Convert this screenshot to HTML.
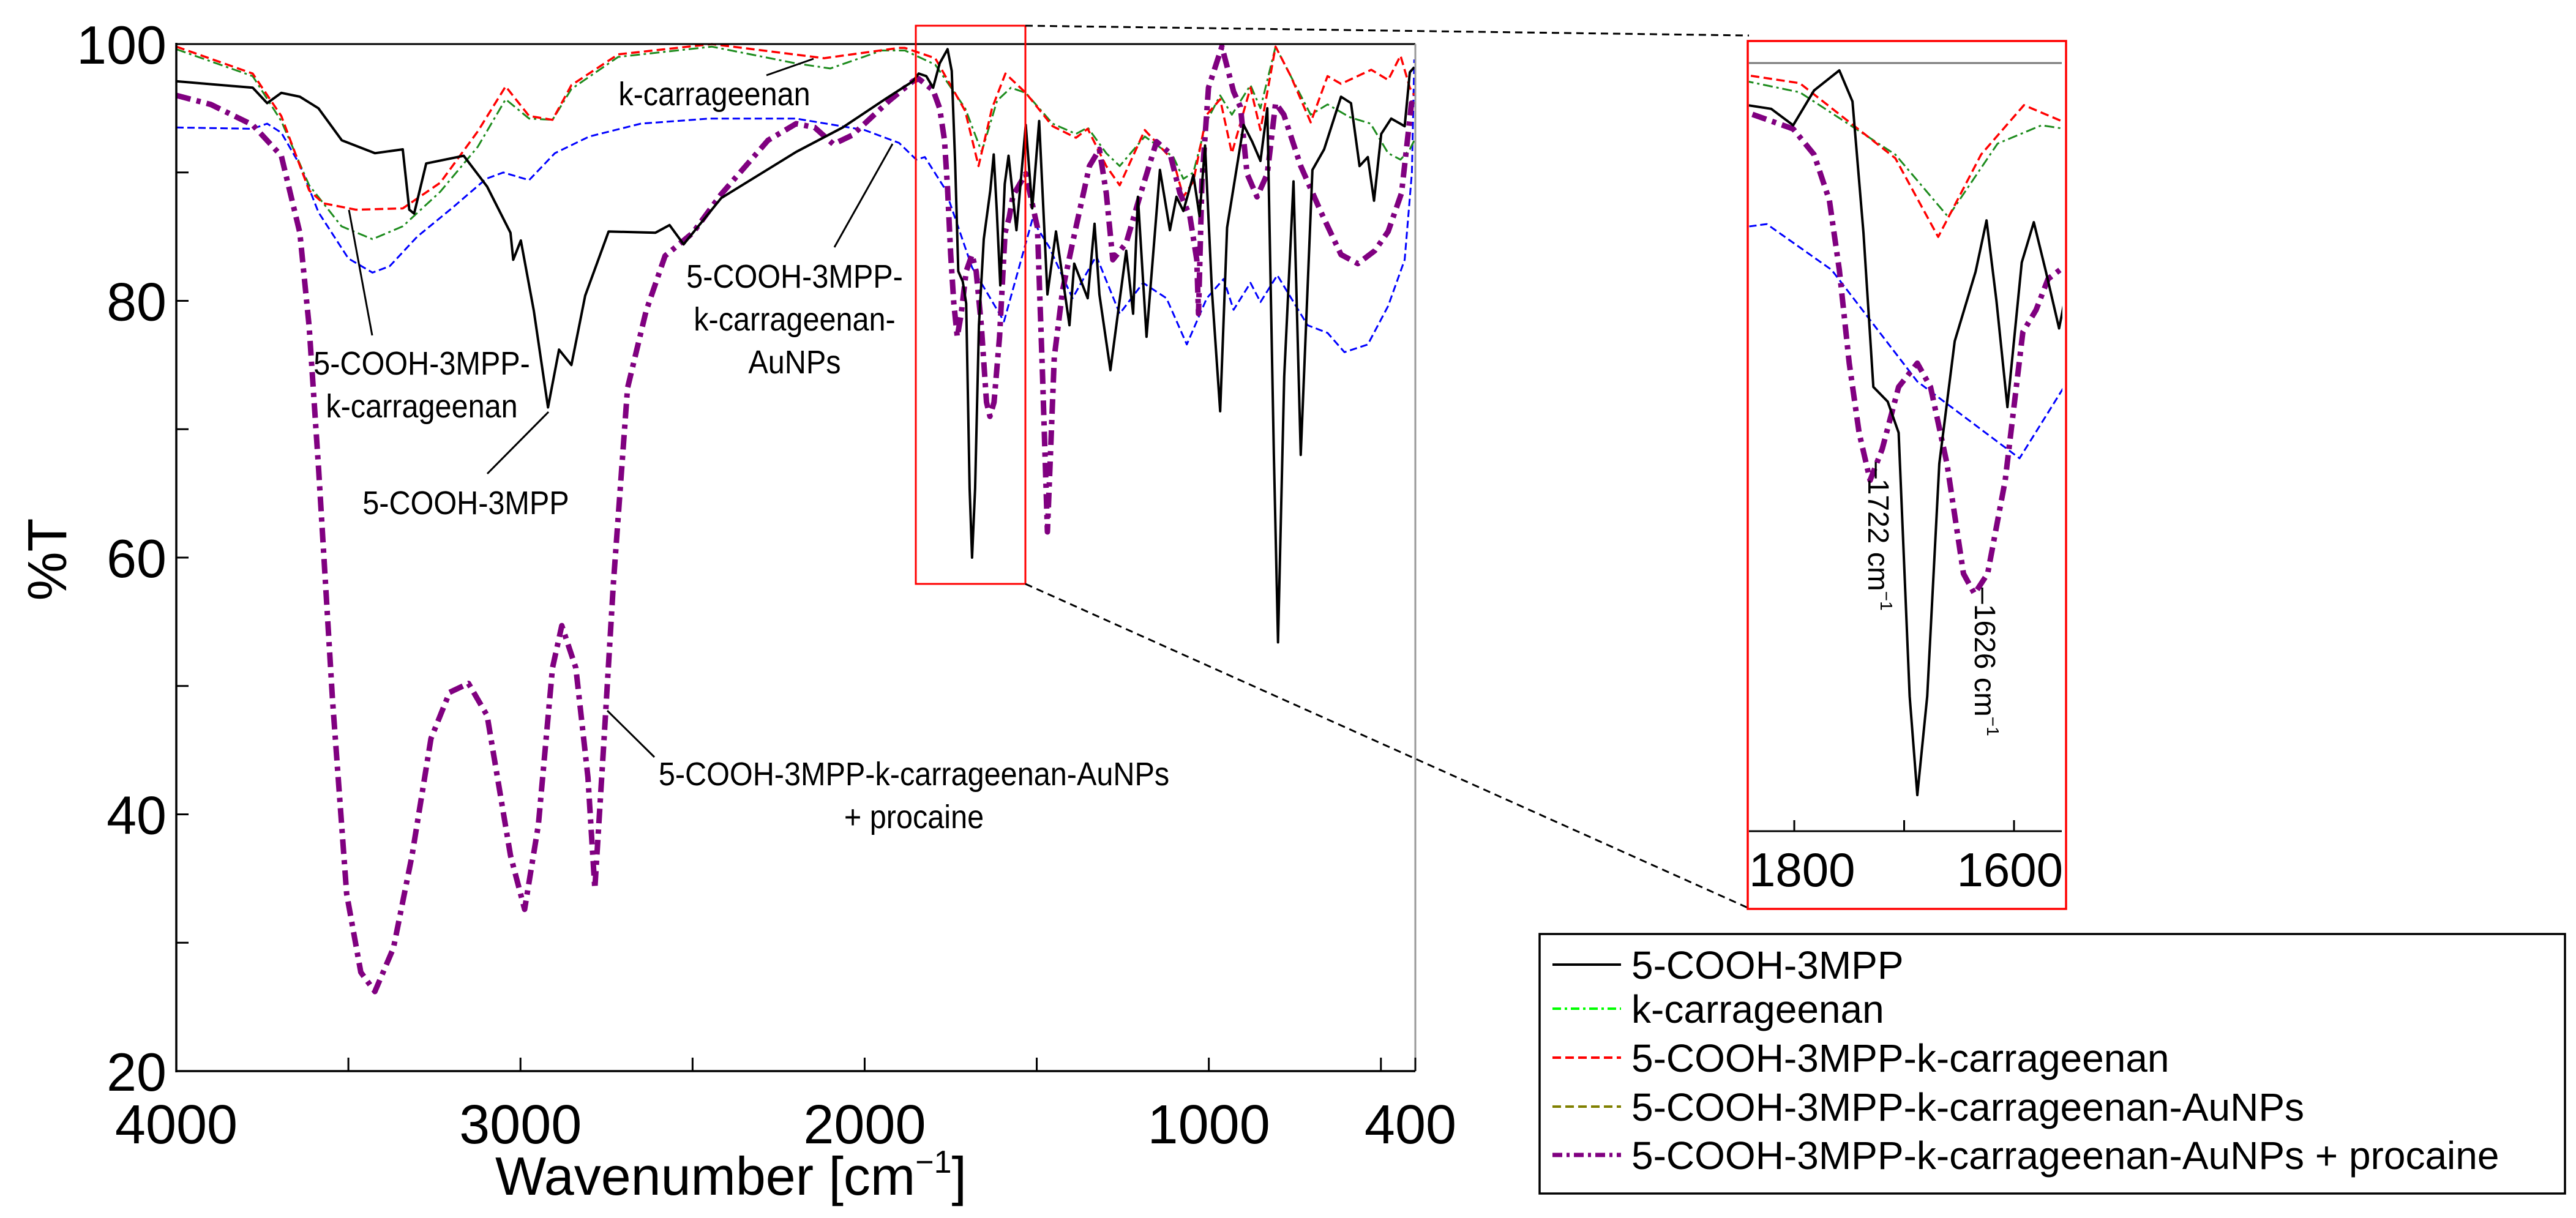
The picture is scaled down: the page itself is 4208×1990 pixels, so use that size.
<!DOCTYPE html>
<html><head><meta charset="utf-8"><style>
html,body{margin:0;padding:0;background:#fff;overflow:hidden;width:4208px;height:1990px}
svg{display:block}
text{font-family:"Liberation Sans",Arial,sans-serif;fill:#000}
</style></head><body>
<svg id="chart" width="4208" height="1990" viewBox="0 0 4208 1990" xmlns="http://www.w3.org/2000/svg">
<defs>
<clipPath id="mainClip"><rect x="288" y="60" width="2026" height="1692"/></clipPath>
<clipPath id="insetClip"><rect x="2857" y="70" width="512" height="1288"/></clipPath>
</defs>
<g id="main"></g>
<g id="inset"></g>
<g id="legend"></g>
</svg>
<script>
// ---- data (wavenumber cm-1, %T) ----
const blackWn=[4000,3778,3736,3695,3641,3587,3519,3423,3342,3323,3309,3274,3165,3097,3029,3021,2999,2961,2920,2888,2852,2812,2744,2608,2567,2526,2417,2199,2064,1941,1860,1843,1821,1801,1782,1759,1747,1737,1728,1715,1705,1695,1688,1679,1668,1654,1635,1625,1616,1606,1593,1582,1571,1559,1532,1513,1493,1469,1444,1405,1391,1352,1332,1318,1286,1240,1220,1206,1181,1142,1113,1094,1074,1045,1027,1011,991,967,947,899,874,850,830,811,799,781,754,733,699,665,616,587,562,538,520,499,470,431,416,403];
const blackT=[97.1,96.6,95.4,96.2,95.9,95.0,92.5,91.5,91.8,87.1,86.8,90.7,91.3,88.9,85.3,83.2,84.7,79.2,71.7,76.2,75.0,80.4,85.4,85.3,85.9,84.4,88.0,91.6,93.5,95.7,97.1,97.7,97.5,96.6,98.5,99.6,97.9,90.7,82.3,81.5,79.8,65.4,60.0,65.4,78.1,84.8,88.6,91.4,87.0,81.2,89.1,91.3,88.6,85.5,93.7,87.2,94.0,80.5,85.4,78.1,82.9,80.2,86.0,80.5,74.6,83.9,79.0,88.1,77.2,90.2,85.5,88.1,87.0,89.8,86.6,92.1,80.8,71.4,85.7,93.7,92.4,90.9,95.0,68.0,53.4,74.1,89.3,68.0,90.2,91.8,95.9,95.4,90.5,91.2,87.8,93.0,94.2,93.6,97.8,98.2];
const greenWn=[4000,3778,3695,3614,3520,3430,3342,3233,3124,3043,2975,2907,2852,2716,2444,2200,2100,1950,1883,1795,1708,1660,1615,1575,1532,1454,1386,1352,1298,1259,1186,1103,1074,1045,1006,967,933,879,850,806,762,704,655,590,530,479,443,416,403];
const greenT=[99.6,97.5,94.0,89.0,85.8,84.8,85.8,88.5,92.0,95.7,94.2,94.1,96.5,99.0,99.8,98.5,98.1,99.5,99.5,98.4,95.0,91.6,95.6,96.6,96.2,93.8,93.0,93.5,91.5,90.5,92.8,91.2,89.5,90.0,94.0,96.0,94.5,96.8,95.0,99.8,97.5,94.5,95.3,94.3,93.8,91.5,91.0,91.8,92.5];
const redWn=[4000,3778,3695,3614,3573,3478,3342,3233,3124,3043,2975,2907,2852,2716,2444,2118,1901,1883,1795,1708,1669,1630,1591,1532,1454,1386,1352,1298,1259,1186,1103,1074,1045,1006,967,933,879,850,806,762,704,655,616,528,479,443,416,403];
const redT=[99.8,97.7,94.4,88.6,87.6,87.1,87.2,89.2,93.2,96.7,94.4,94.1,96.8,99.2,100,98.9,99.7,99.7,98.9,94.8,90.5,95.0,97.7,96.2,93.6,92.7,93.4,90.5,89.0,93.3,90.9,88.1,89.3,94.5,95.7,91.5,96.6,93.3,99.8,97.5,93.9,97.5,96.9,98.0,97.2,99.1,96.6,96.0];
const blueWn=[4000,3778,3736,3695,3641,3587,3500,3430,3380,3300,3200,3100,3050,2975,2900,2800,2650,2450,2200,2000,1900,1850,1825,1766,1688,1595,1513,1464,1396,1327,1259,1191,1123,1064,1006,957,928,879,850,801,713,655,606,538,479,431,410,403];
const blueT=[93.5,93.4,93.8,93.1,90.6,86.9,83.3,82.2,82.7,85.0,87.2,89.5,90.0,89.4,91.5,92.8,93.8,94.2,94.2,93.3,92.3,91.0,91.2,88.7,82.6,78.4,86.3,84.2,80.2,83.5,79.0,81.4,80.2,76.6,80.2,81.7,79.3,81.4,79.9,82.0,78.1,77.5,76.0,76.6,79.6,83.2,90.0,98.8];
const purpleWn=[4000,3900,3778,3695,3641,3614,3587,3546,3505,3464,3423,3369,3315,3260,3206,3151,3097,3029,2988,2948,2907,2880,2839,2804,2784,2757,2730,2689,2635,2580,2499,2417,2281,2199,2145,2091,2036,1928,1860,1843,1801,1782,1768,1759,1750,1741,1731,1720,1705,1688,1676,1661,1646,1636,1624,1608,1592,1580,1569,1532,1498,1483,1469,1449,1425,1396,1347,1318,1298,1279,1240,1201,1152,1113,1084,1055,1035,1030,1020,1001,962,928,908,889,860,830,806,782,733,674,616,567,518,479,440,411,403];
const purpleT=[96.0,95.3,93.7,91.3,85.3,78.0,67.1,48.9,33.8,27.7,26.2,29.6,36.8,45.9,49.5,50.2,47.7,36.8,32.6,39.2,51.4,54.7,51.4,42.9,34.2,45.9,58.0,73.2,79.2,83.5,85.3,88.3,92.5,93.8,93.5,92.2,92.9,95.6,97.1,97.3,96.4,95.0,92.5,88.7,83.6,79.8,77.2,78.9,82.3,83.6,82.3,78.1,72.1,71.0,72.1,77.2,85.3,86.5,88.2,89.9,85.7,74.1,62.0,75.6,80.8,84.5,90.5,91.8,88.4,83.2,84.5,88.1,92.4,91.5,88.4,86.6,83.2,79.0,89.3,96.6,99.8,96.3,95.1,89.9,88.1,89.9,95.4,94.5,90.5,86.9,83.6,82.9,83.9,85.4,88.4,95.4,95.1];
const xTickLabels=[4000,3000,2000,1000,400];
const xMinorTicks=[3500,2500,1500,500];
const yTickLabels=[100,80,60,40,20];
const yMinorTicks=[90,70,50,30];
const insetTickLabels=[1800,1600];
const legendLabels=["5-COOH-3MPP","k-carrageenan","5-COOH-3MPP-k-carrageenan","5-COOH-3MPP-k-carrageenan-AuNPs","5-COOH-3MPP-k-carrageenan-AuNPs + procaine"];

const NS="http://www.w3.org/2000/svg";
function mk(tag,attrs,parent){const e=document.createElementNS(NS,tag);for(const k in attrs)e.setAttribute(k,attrs[k]);parent.appendChild(e);return e;}
// axis functions
const X0=288,X1=2312,Y0=72,Y1=1750;
function xMain(w){return X0+(4000-w)/3600*(X1-X0);}
function yMain(t){return Y0+(100-t)/80*(Y1-Y0);}
function xIn(w){return 2931-(w-1800)*1.795;}
function yIn(t){return 103+(100-t)*29.9;}

const main=document.getElementById('main'),inset=document.getElementById('inset'),legend=document.getElementById('legend');
const series=[
 {wn:blueWn,t:blueT,stroke:"#0000ff",w:3,dash:"12 6",name:"series-aunps"},
 {wn:greenWn,t:greenT,stroke:"#1e8c1e",w:3,dash:"16 6 4 6",name:"series-k-carrageenan"},
 {wn:redWn,t:redT,stroke:"#ff0000",w:3.5,dash:"14 7",name:"series-3mpp-carrageenan"},
 {wn:purpleWn,t:purpleT,stroke:"#800080",w:9,dash:"24 10 7 10",name:"series-aunps-procaine"},
 {wn:blackWn,t:blackT,stroke:"#000",w:4,dash:"",name:"series-5-cooh-3mpp"}
];

// main frame
let g=mk('g',{'clip-path':'url(#mainClip)'},main);


series.forEach(s=>{
 const p=s.wn.map((w,i)=>xMain(w).toFixed(1)+","+yMain(s.t[i]).toFixed(1)).join(" ");
 const pl=mk('polyline',{points:p,fill:"none",stroke:s.stroke,'stroke-width':s.w,'stroke-dasharray':s.dash,'stroke-linejoin':'round'},g);
 
 
});
let fr;
fr=mk('line',{x1:X0,y1:Y0,x2:X1,y2:Y0,stroke:"#000",'stroke-width':3},main);

fr=mk('line',{x1:X1,y1:Y0,x2:X1,y2:Y1,stroke:"#999",'stroke-width':3},main);

fr=mk('line',{x1:X0,y1:Y0-2,x2:X0,y2:Y1+2,stroke:"#000",'stroke-width':3.5},main);

fr=mk('line',{x1:X0,y1:Y1,x2:X1,y2:Y1,stroke:"#000",'stroke-width':3.5},main);

xTickLabels.concat(xMinorTicks).forEach(w=>{
 const t=mk('line',{x1:xMain(w),y1:Y1,x2:xMain(w),y2:Y1-22,stroke:"#000",'stroke-width':3},main);
 
});
xTickLabels.forEach(w=>{
 const t=mk('text',{x:xMain(w)+(w===400?-8:0),y:1868,'font-size':90,'text-anchor':'middle'},main);t.textContent=w;
 
});
yTickLabels.concat(yMinorTicks).forEach(v=>{
 const t=mk('line',{x1:X0,y1:yMain(v),x2:X0+20,y2:yMain(v),stroke:"#000",'stroke-width':3},main);
 
});
yTickLabels.forEach(v=>{
 const t=mk('text',{x:272,y:yMain(v)+32,'font-size':88,'text-anchor':'end'},main);t.textContent=v;
 
});
let tx=mk('text',{x:1194,y:1952,'font-size':88,'text-anchor':'middle'},main);
tx.innerHTML='Wavenumber [cm<tspan font-size="52" dy="-36">−1</tspan><tspan dy="36">]</tspan>';

tx=mk('text',{x:0,y:0,'font-size':90,'text-anchor':'middle',transform:'translate(108,914) rotate(-90)'},main);tx.textContent='%T';


// annotations
function ann(lines,cx,cy,name){const t=mk('text',{x:cx,y:cy,'font-size':54,'text-anchor':'middle',transform:`translate(${cx},0) scale(0.9,1) translate(${-cx},0)`},main);
 lines.forEach((l,i)=>{const s=mk('tspan',{x:cx,dy:i?70:0},t);s.textContent=l;});
 }
function lead(x1,y1,x2,y2,name){const l=mk('line',{x1,y1,x2,y2,stroke:"#000",'stroke-width':3},main);}
ann(["k-carrageenan"],1167,172,'label-k-carrageenan');lead(1252,123,1329,96,'leader-k-carrageenan');
ann(["5-COOH-3MPP-","k-carrageenan"],689,612,'label-3mpp-carrageenan');lead(608,548,570,343,'leader-3mpp-carrageenan');
ann(["5-COOH-3MPP"],761,840,'label-5-cooh-3mpp');lead(796,774,896,673,'leader-5-cooh-3mpp');
ann(["5-COOH-3MPP-","k-carrageenan-","AuNPs"],1298,470,'label-aunps');lead(1363,404,1458,235,'leader-aunps');
ann(["5-COOH-3MPP-k-carrageenan-AuNPs","+ procaine"],1493,1283,'label-procaine');lead(992,1161,1069,1237,'leader-procaine');

// zoom box and connectors
let r=mk('rect',{x:1496,y:42,width:179,height:912,fill:"none",stroke:"#ff0000",'stroke-width':3},main);

lead(1675,42,2857,58,'connector-top');main.lastChild.setAttribute('stroke-dasharray','12 8');
lead(1675,954,2857,1484,'connector-bottom');main.lastChild.setAttribute('stroke-dasharray','12 8');

// inset
r=mk('rect',{x:2855,y:67,width:520,height:1418,fill:"#fff",stroke:"#ff0000",'stroke-width':3.5},inset);

fr=mk('line',{x1:2857,y1:103,x2:3368,y2:103,stroke:"#777",'stroke-width':3},inset);

let gi=mk('g',{'clip-path':'url(#insetClip)'},inset);

series.forEach(s=>{
 const p=s.wn.map((w,i)=>xIn(w).toFixed(1)+","+yIn(s.t[i]).toFixed(1)).join(" ");
 const pl=mk('polyline',{points:p,fill:"none",stroke:s.stroke,'stroke-width':s.w,'stroke-dasharray':s.dash,'stroke-linejoin':'round'},gi);
 
 
});
fr=mk('line',{x1:2857,y1:1358,x2:3368,y2:1358,stroke:"#000",'stroke-width':3},inset);

[1800,1700,1600].forEach(w=>{const t=mk('line',{x1:xIn(w),y1:1358,x2:xIn(w),y2:1340,stroke:"#000",'stroke-width':3},inset);
 });
insetTickLabels.forEach((w,i)=>{const t=mk('text',{x:i?3370:2857,y:1448,'font-size':78,'text-anchor':i?'end':'start'},inset);t.textContent=w;
 });
function vlab(txt,x,y,name){const t=mk('text',{x:0,y:0,'font-size':48,transform:`translate(${x},${y}) rotate(90)`},inset);
 t.innerHTML='–'+txt+' cm<tspan font-size="28" dy="-20">−1</tspan>';}
vlab('1722',3052,755,'label-1722');vlab('1626',3226,960,'label-1626');

// legend
r=mk('rect',{x:2515,y:1526,width:1675,height:424,fill:"#fff",stroke:"#000",'stroke-width':3.5},legend);

const legStroke=["#000","#00ff00","#ff0000","#808000","#800080"];
const legDash=["","14 6 4 6","14 7","14 7","16 7 5 7"];
const legW=[4,4,4,4,7];
const rowY=[1576,1648,1728,1808,1887];
legendLabels.forEach((lab,i)=>{
 const l=mk('line',{x1:2536,y1:rowY[i],x2:2648,y2:rowY[i],stroke:legStroke[i],'stroke-width':legW[i],'stroke-dasharray':legDash[i]},legend);
 
 const t=mk('text',{x:2665,y:rowY[i]+23,'font-size':64},legend);t.textContent=lab;
 
});
</script>
</body></html>
